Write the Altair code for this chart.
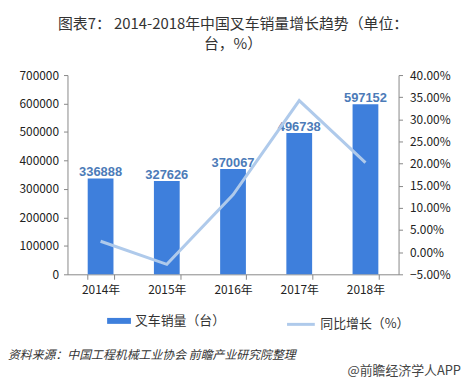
import altair as alt
import pandas as pd

years = ["2014年", "2015年", "2016年", "2017年", "2018年"]
sales = [336888, 327626, 370067, 496738, 597152]
growth = [2.47, -2.75, 12.95, 34.23, 20.21]
left_ticks = [0, 100000, 200000, 300000, 400000, 500000, 600000, 700000]
right_ticks = [-5, 0, 5, 10, 15, 20, 25, 30, 35, 40]

title_lines = ["图表7： 2014-2018年中国叉车销量增长趋势（单位：", "台，%）"]
source_text = "资料来源：中国工程机械工业协会 前瞻产业研究院整理"
brand_text = "@前瞻经济学人APP"
bar_name = "叉车销量（台）"
line_name = "同比增长（%）"

df = pd.DataFrame({"year": years, "sales": sales, "growth": growth})

FONT = "Noto Sans CJK SC"
BAR = "#3E7FDC"
LINE = "#AFCAEB"
LABEL = "#4C7BB8"

x = alt.X("year:N", sort=years, title=None,
          scale=alt.Scale(paddingInner=0.6, paddingOuter=0.3),
          axis=alt.Axis(labelAngle=0, tickBand="extent", labelFontSize=12,
                        labelColor="#222", domainColor="#888", tickColor="#888",
                        tickSize=5, labelPadding=5, labelFont=FONT))

y_sales = alt.Y("sales:Q", title=None,
                scale=alt.Scale(domain=[0, 700000], nice=False),
                axis=alt.Axis(values=left_ticks, format="d", grid=False,
                              labelFontSize=12, labelColor="#222",
                              labelOverlap=False, labelFlush=False,
                              domainColor="#888", tickColor="#888", tickSize=4,
                              labelPadding=5, labelFont=FONT))

bars = alt.Chart(df).mark_bar(size=26).encode(
    x=x,
    y=y_sales,
    fill=alt.Fill("series:N", scale=alt.Scale(domain=[bar_name], range=[BAR]),
                  legend=alt.Legend(title=None, orient="none", legendX=40, legendY=236,
                                    symbolType="M-1,-0.25H1V0.25H-1Z", symbolSize=576,
                                    symbolStrokeWidth=0, labelFontSize=13, labelFont=FONT,
                                    labelColor="#333", labelOffset=4)),
).transform_calculate(series=f"'{bar_name}'")

labels = alt.Chart(df).mark_text(baseline="alphabetic", dy=-2, fontSize=13,
                                 fontWeight="bold", color=LABEL, font="Liberation Sans").encode(
    x=x,
    y=y_sales,
    text=alt.Text("sales:Q", format="d"),
)

line = alt.Chart(df).mark_line(strokeWidth=3).encode(
    x=x,
    y=alt.Y("growth:Q", title=None,
            scale=alt.Scale(domain=[-5, 40], nice=False),
            axis=alt.Axis(orient="right", values=right_ticks,
                          labelExpr="format(datum.value, '.2f') + '%'", grid=False,
                          labelOverlap=False, labelFlush=False,
                          labelFontSize=12, labelColor="#222", domainColor="#888",
                          tickColor="#888", tickSize=4, labelPadding=7, labelFont=FONT)),
    stroke=alt.Stroke("series:N", scale=alt.Scale(domain=[line_name], range=[LINE]),
                      legend=alt.Legend(title=None, orient="none", legendX=220, legendY=236,
                                        symbolType="stroke", symbolSize=784,
                                        symbolStrokeWidth=3, labelFontSize=13, labelFont=FONT,
                                        labelColor="#333", labelOffset=4)),
).transform_calculate(series=f"'{line_name}'")

src_df = pd.DataFrame({"t": [source_text]})
source = alt.Chart(src_df).mark_text(align="left", baseline="middle", fontSize=12,
                                     fontStyle="italic", color="#333", font=FONT).encode(
    x=alt.value(-60), y=alt.value(282), text="t:N")

brand_df = pd.DataFrame({"t": [brand_text]})
brand = alt.Chart(brand_df).mark_text(align="right", baseline="middle", fontSize=13,
                                      color="#444", font=FONT).encode(
    x=alt.value(397), y=alt.value(299), text="t:N")

chart = alt.layer(
    alt.layer(bars, labels),
    line,
    source,
    brand,
).resolve_scale(y="independent", fill="independent", stroke="independent").properties(
    width=334, height=201,
    autosize=alt.AutoSizeParams(type="none"),
    padding={"left": 60, "top": 66, "right": 65, "bottom": 107},
    title=alt.Title(title_lines, anchor="middle", fontSize=15, fontWeight="normal",
                    font=FONT, color="#333", lineHeight=20, offset=17),
).configure_view(stroke=None)

chart.save("out.html", embed_options={"renderer": "svg", "actions": False})
